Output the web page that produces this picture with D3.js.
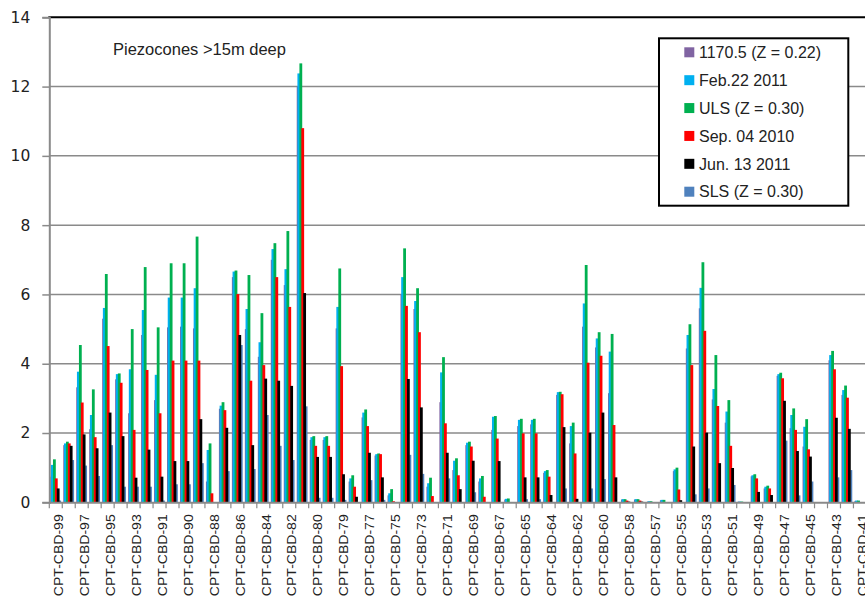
<!DOCTYPE html>
<html><head><meta charset="utf-8">
<script src="https://cdn.jsdelivr.net/npm/d3@7"></script>
<style>
html,body{margin:0;padding:0;background:#fff;overflow:hidden;}
svg{display:block;}
</style>
</head><body>
<svg id="chart" width="865" height="601"></svg>
<script>
// ---------------- DATA ----------------
const categories = ["CPT-CBD-99","CPT-CBD-98","CPT-CBD-97","CPT-CBD-96","CPT-CBD-95","CPT-CBD-94","CPT-CBD-93","CPT-CBD-92","CPT-CBD-91","CPT-CBD-90A",
"CPT-CBD-90","CPT-CBD-89","CPT-CBD-88","CPT-CBD-87","CPT-CBD-86","CPT-CBD-85","CPT-CBD-84","CPT-CBD-83","CPT-CBD-82","CPT-CBD-81",
"CPT-CBD-80","CPT-CBD-80A","CPT-CBD-79","CPT-CBD-78","CPT-CBD-77","CPT-CBD-76","CPT-CBD-75","CPT-CBD-74","CPT-CBD-73","CPT-CBD-72",
"CPT-CBD-71","CPT-CBD-70","CPT-CBD-69","CPT-CBD-68","CPT-CBD-67","CPT-CBD-66","CPT-CBD-65","CPT-CBD-65A","CPT-CBD-64","CPT-CBD-63",
"CPT-CBD-62","CPT-CBD-61","CPT-CBD-60","CPT-CBD-59","CPT-CBD-58","CPT-CBD-58A","CPT-CBD-57","CPT-CBD-56","CPT-CBD-55","CPT-CBD-54",
"CPT-CBD-53","CPT-CBD-52","CPT-CBD-51","CPT-CBD-50","CPT-CBD-49","CPT-CBD-48","CPT-CBD-47","CPT-CBD-46","CPT-CBD-45","CPT-CBD-44",
"CPT-CBD-43","CPT-CBD-42","CPT-CBD-41"];

const seriesNames = ["1170.5 (Z = 0.22)","Feb.22 2011","ULS (Z = 0.30)","Sep. 04 2010","Jun. 13 2011","SLS (Z = 0.30)"];
const seriesColors = ["#8064A2","#00B0F0","#00B050","#FF0000","#000000","#4F81BD"];

const s1170 = [0.74,1.65,3.32,2.11,5.30,3.55,2.57,4.83,2.95,5.05,
5.07,5.02,0.60,2.70,6.50,5.00,4.20,7.00,6.27,12.00,
1.80,1.80,5.02,0.60,2.45,1.35,0.20,6.00,5.58,0.45,
2.89,0.93,1.65,0.60,2.09,0.08,2.20,2.25,0.85,3.10,
1.70,5.07,4.47,3.15,0.08,0.08,0.02,0.06,0.90,4.44,
5.60,2.97,2.30,0.02,0.75,0.40,3.65,2.14,1.61,0,
4.10,3.10,0.04];
const feb22 = [1.08,1.70,3.77,2.52,5.61,3.70,3.84,5.55,3.68,5.91,
5.91,6.18,1.51,2.79,6.66,5.58,4.62,7.31,6.73,12.38,
1.88,1.88,5.64,0.69,2.59,1.39,0.26,6.50,5.81,0.55,
3.75,1.20,1.72,0.69,2.47,0.10,2.38,2.38,0.90,3.18,
2.20,5.74,4.73,4.35,0.09,0.09,0.03,0.07,0.95,4.83,
6.19,3.27,2.62,0.02,0.78,0.45,3.70,2.52,2.18,0,
4.25,3.24,0.05];
const uls = [1.24,1.75,4.54,3.26,6.59,3.72,5.00,6.79,5.05,6.90,
6.90,7.67,1.70,2.89,6.69,6.56,5.46,7.48,7.83,12.67,
1.91,1.91,6.75,0.78,2.68,1.41,0.38,7.33,6.18,0.71,
4.19,1.27,1.75,0.76,2.49,0.11,2.41,2.41,0.93,3.19,
2.30,6.85,4.91,4.86,0.09,0.09,0.03,0.07,1.00,5.14,
6.93,4.25,2.95,0.02,0.81,0.48,3.74,2.71,2.40,0,
4.37,3.37,0.05];
const sep04 = [0.69,1.70,2.88,1.88,4.51,3.45,2.09,3.82,2.57,4.09,
4.09,4.09,0.26,2.66,6.01,3.51,3.96,6.50,5.64,10.80,
1.63,1.63,3.93,0.45,2.20,1.39,0.03,5.67,4.91,0.18,
2.28,0.78,1.61,0.16,1.84,0,1.99,1.99,0.74,3.12,
1.41,4.03,4.23,2.23,0.05,0.05,0,0,0.37,3.96,
4.95,2.78,1.63,0,0.69,0.40,3.58,2.09,1.53,0,
3.84,3.02,0];
const jun13 = [0.40,1.63,1.96,1.56,2.59,1.91,0.71,1.52,0.74,1.19,
1.19,2.40,0,2.15,4.83,1.65,3.57,3.51,3.36,6.04,
1.31,1.31,0.81,0.16,1.43,0.72,0,3.56,2.74,0,
1.43,0.38,1.20,0,1.19,0,0.72,0.72,0.21,2.17,
0.10,2.01,2.59,0.72,0.02,0.02,0,0,0.06,1.61,
2.01,1.13,0.99,0,0.30,0.21,2.93,1.48,1.32,0,
2.44,2.12,0];
const sls = [0.05,1.22,1.06,0.76,1.65,0.45,0.45,0.45,0.05,0.52,
0.52,1.13,0,0.90,4.54,0.96,2.52,1.63,1.22,2.77,
0.13,0.13,0.07,0,0.64,0.07,0,1.37,0.82,0,
0.69,0,0.29,0,0,0,0.09,0.09,0,0.40,
0,0.40,0.67,0,0,0,0,0,0,0.23,
0.40,0,0.50,0,0,0,1.78,0.20,0.60,0,
0.72,0.93,0];

const yTicks = [0,2,4,6,8,10,12,14];
const titleText = "Piezocones >15m deep";

// ---------------- CHART ----------------
const seriesValues = [s1170, feb22, uls, sep04, jun13, sls];
const svg = d3.select("#chart");
svg.append("rect").attr("width",865).attr("height",601).attr("fill","#fff");

const plotLeft = 49.3, catW = 12.97;
const x = d3.scaleBand().domain(categories)
  .range([plotLeft, plotLeft + catW*categories.length]).paddingInner(0).paddingOuter(0);
const y = d3.scaleLinear().domain([0,14]).range([502.3, 17.3]);
const plotRight = plotLeft + catW*categories.length;

// position & width of each series bar inside a category (layout, not data)
const innerOffset = [1.0, 1.7, 3.7, 5.6, 7.5, 9.9];
const innerWidth  = [2.0, 2.8, 2.8, 2.8, 2.8, 1.9];

// gridlines
svg.append("g").selectAll("line").data(yTicks.filter(t => t>0 && t<14)).join("line")
  .attr("x1", plotLeft).attr("x2", plotRight)
  .attr("y1", d => y(d)).attr("y2", d => y(d))
  .attr("stroke","#8a8a8a").attr("stroke-width",1.5);

// bars (SLS first so it sits underneath black)
const drawOrder = [5,0,1,2,3,4];
const barsG = svg.append("g");
drawOrder.forEach(si => {
  barsG.append("g").selectAll("rect")
    .data(categories.map((c,i) => ({c, v: seriesValues[si][i]})))
    .join("rect")
    .attr("x", d => x(d.c) + innerOffset[si])
    .attr("width", innerWidth[si])
    .attr("y", d => y(d.v))
    .attr("height", d => Math.max(0, y(0) - y(d.v)))
    .attr("fill", seriesColors[si]);
});

// top border (black)
svg.append("line").attr("x1", plotLeft-1).attr("x2", plotRight).attr("y1", y(14)).attr("y2", y(14))
  .attr("stroke","#000").attr("stroke-width",2);

// y axis
const yAxis = d3.axisLeft(y).tickValues(yTicks).tickSize(7).tickPadding(12).tickFormat(d3.format("d"));
const yg = svg.append("g").attr("transform",`translate(${plotLeft},0)`).call(yAxis);
yg.select(".domain").attr("stroke","#8a8a8a").attr("stroke-width",2);
yg.selectAll(".tick line").attr("stroke","#8a8a8a").attr("stroke-width",1.5);
yg.selectAll(".tick text").attr("font-family","DejaVu Sans, sans-serif").attr("font-size","15.5px").attr("fill","#222");

// x axis
const xAxis = d3.axisBottom(x).tickSize(0).tickFormat("");
const xg = svg.append("g").attr("transform",`translate(0,${y(0)})`).call(xAxis);
xg.select(".domain").attr("stroke","#8a8a8a").attr("stroke-width",2);
xg.append("g").selectAll("line").data(d3.range(categories.length+1)).join("line")
  .attr("x1", i => plotLeft + i*catW).attr("x2", i => plotLeft + i*catW)
  .attr("y1", 0).attr("y2", 6).attr("stroke","#8a8a8a").attr("stroke-width",1.2);
xg.append("g").selectAll("text").data(categories.filter((c,i) => i%2===0)).join("text")
  .attr("transform", d => `translate(${x(d) + x.bandwidth()/2 + 3},${12}) rotate(-90) scale(1.17,1)`)
  .attr("text-anchor","end").attr("dy","0.35em")
  .attr("font-family","Liberation Sans, Arial, sans-serif").attr("font-size","12px").attr("fill","#222")
  .text(d => d);

// title
svg.append("text").attr("x",113).attr("y",55).attr("font-family","Liberation Sans, Arial, sans-serif")
  .attr("font-size","16.5px").attr("fill","#222").text(titleText);

// legend
const lg = svg.append("g");
lg.append("rect").attr("x",659).attr("y",38.3).attr("width",189.3).attr("height",167.4)
  .attr("fill","#fff").attr("stroke","#000").attr("stroke-width",2);
const legY = d3.scalePoint().domain(seriesNames).range([52.3, 191.7]);
const items = lg.selectAll("g.item").data(seriesNames).join("g").attr("class","item")
  .attr("transform", d => `translate(0,${legY(d)})`);
items.append("rect").attr("x",684.3).attr("y",-5).attr("width",10).attr("height",10)
  .attr("fill",(d,i) => seriesColors[i]);
items.append("text").attr("x",699).attr("y",0).attr("dy","0.36em")
  .attr("font-family","Liberation Sans, Arial, sans-serif").attr("font-size","16px").attr("fill","#222")
  .text(d => d);
</script>
</body></html>
